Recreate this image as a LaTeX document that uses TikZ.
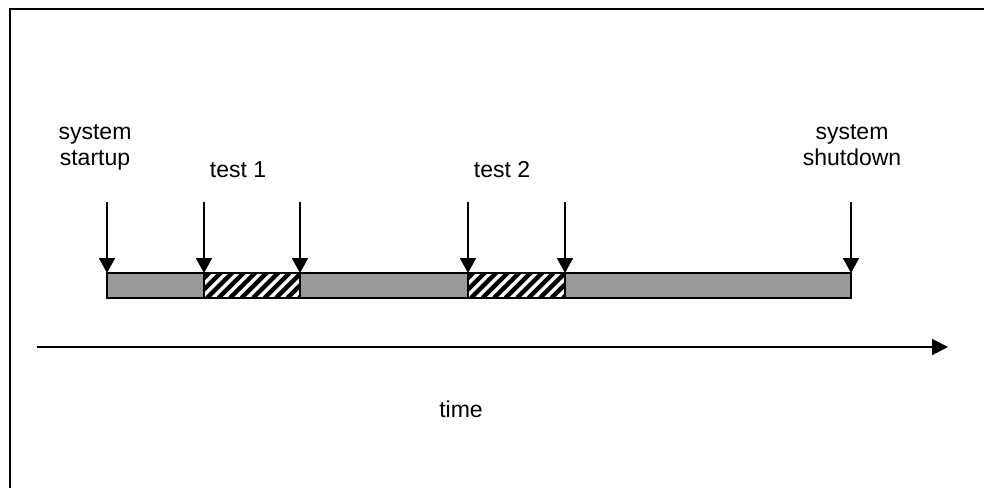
\documentclass[tikz,border=0pt]{standalone}
\usepackage{fontspec}
\setmainfont{Liberation Sans}
\usetikzlibrary{arrows.meta}
\begin{document}
\begin{tikzpicture}[x=1pt,y=-1pt,
  lbl/.style={font=\fontsize{23}{26}\selectfont, inner sep=0pt, align=center, anchor=base},
  seg/.style={draw=black, line width=2pt, fill={rgb,255:red,153;green,153;blue,153}, inner sep=0pt, outer sep=0pt, minimum height=25pt, anchor=north west},
  hatch/.style={draw=black, line width=2pt, fill=white, inner sep=0pt, outer sep=0pt, minimum height=25pt, anchor=north west},
  marker/.style={draw=black, line width=1.8pt, -{Triangle[length=15pt,width=16pt]}},
  timearrow/.style={draw=black, line width=2pt, -{Triangle[length=16pt,width=16pt]}}]
\useasboundingbox (0,0) rectangle (984,487);
\fill[white] (0,0) rectangle (984,487);
% frame (right and bottom edges lie outside the picture)
\draw[line width=2pt, black] (10,495) -- (10,9) -- (995,9);

% bar segments
\node[seg, minimum width=97pt] (s1) at (107,273) {};
\node[hatch, minimum width=96pt] (h1) at (204,273) {};
\node[seg, minimum width=168pt] (s2) at (300,273) {};
\node[hatch, minimum width=97pt] (h2) at (468,273) {};
\node[seg, minimum width=286pt] (s3) at (565,273) {};

% hatching
\foreach \n in {h1,h2}{
  \begin{scope}
    \clip (\n.north west) rectangle (\n.south east);
    \foreach \i in {-3,...,9}{
      \draw[line width=4.4pt] ([xshift=\i*11.5pt+3pt]\n.south west) -- ++(30,-30);
    }
  \end{scope}
  \draw[line width=2pt] (\n.north west) rectangle (\n.south east);
}

% labels
\node[lbl] (lstart) at (95,165) {system\\startup};
\node[lbl] (ltest1) at (238,177) {test 1};
\node[lbl] (ltest2) at (502,177) {test 2};
\node[lbl] (lshut) at (852,165) {system\\shutdown};
\node[lbl] (ltime) at (461,417) {time};

% marker arrows
\coordinate (a1) at (107,202);
\coordinate (a2) at (204,202);
\coordinate (a3) at (300,202);
\coordinate (a4) at (468,202);
\coordinate (a5) at (565,202);
\coordinate (a6) at (851,202);
\draw[marker] (a1) -- (a1 |- s1.north);
\draw[marker] (a2) -- (a2 |- h1.north);
\draw[marker] (a3) -- (a3 |- h1.north);
\draw[marker] (a4) -- (a4 |- h2.north);
\draw[marker] (a5) -- (a5 |- h2.north);
\draw[marker] (a6) -- (a6 |- s3.north);

% time axis
\coordinate (t0) at (37,347);
\coordinate (t1) at (948,347);
\draw[timearrow] (t0) -- (t1);
\end{tikzpicture}
\end{document}
